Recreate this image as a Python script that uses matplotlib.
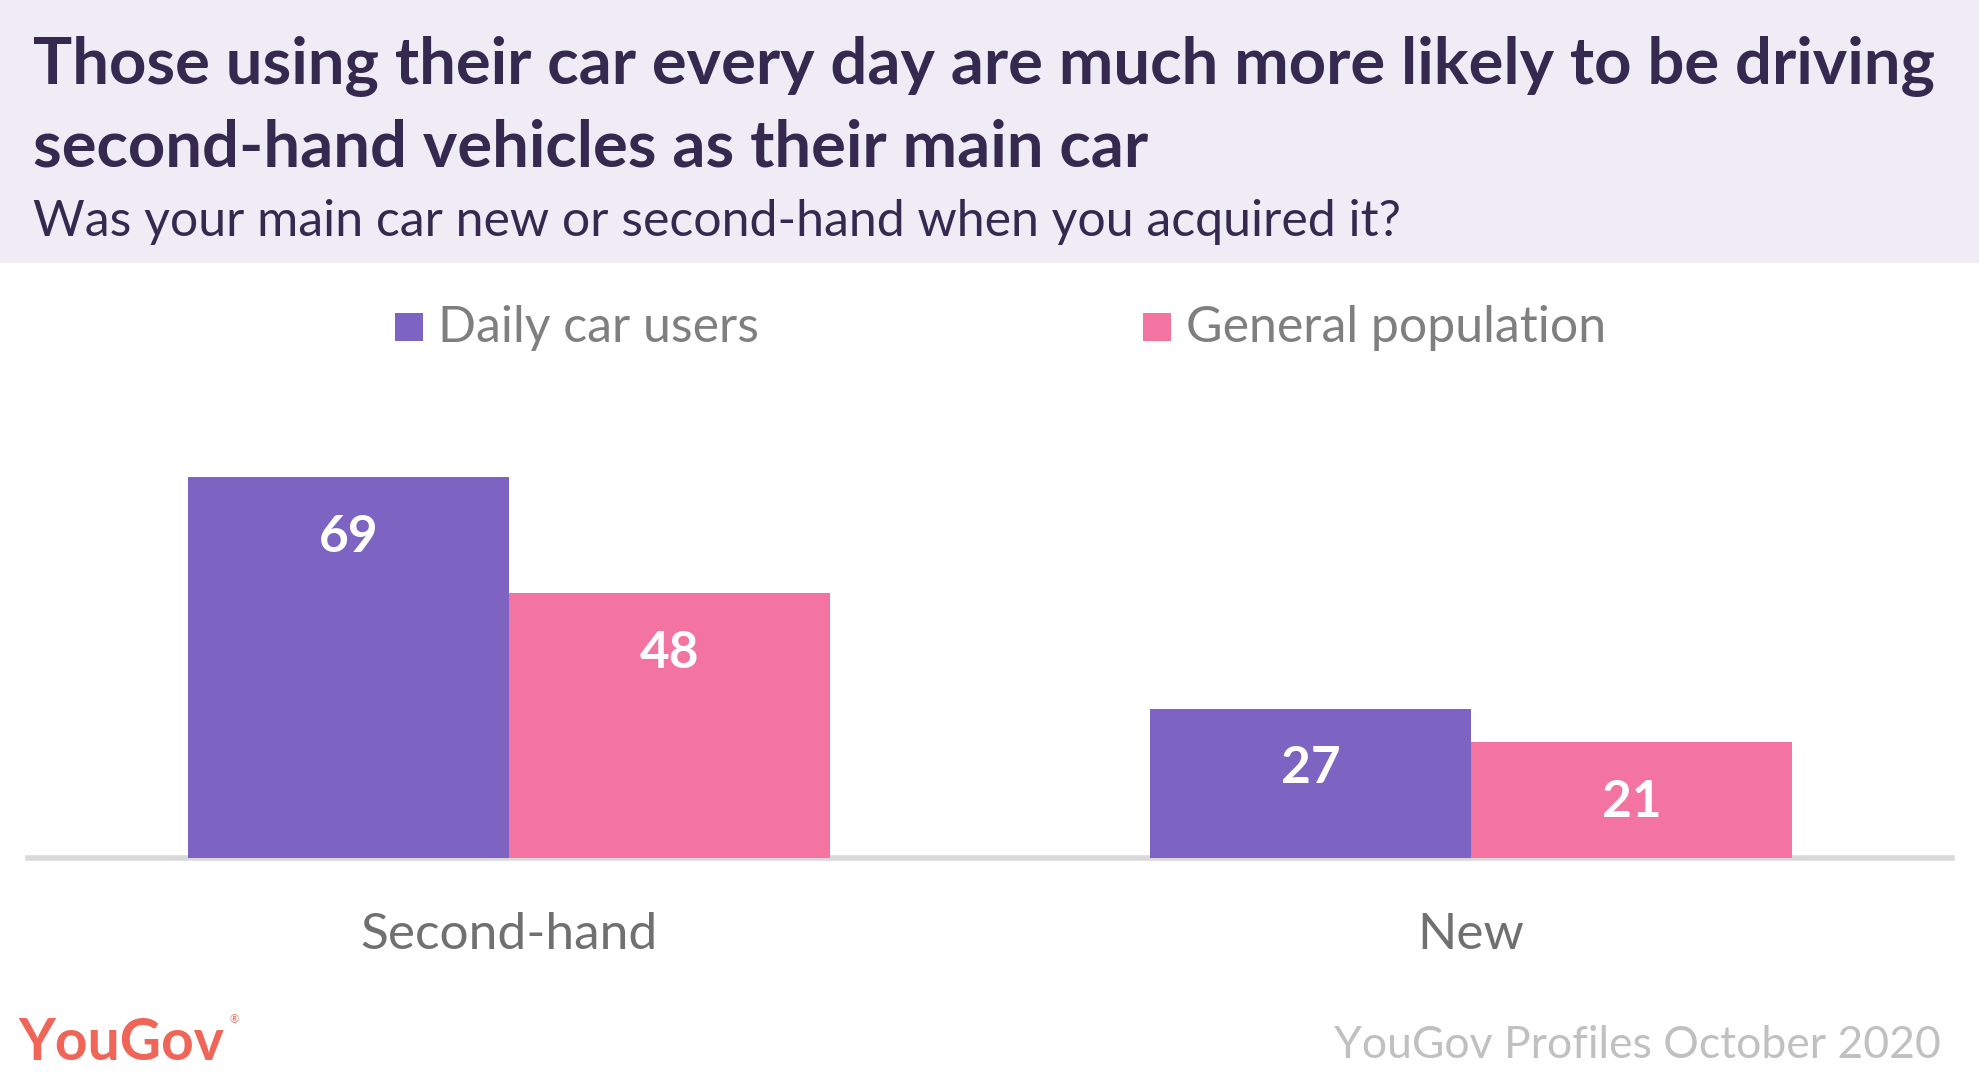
import matplotlib.pyplot as plt
from matplotlib.patches import Rectangle

categories = ['Second-hand', 'New']
series_names = ['Daily car users', 'General population']
daily_car_users = [69, 27]
general_population = [48, 21]

title = ('Those using their car every day are much more likely to be driving\n'
         'second-hand vehicles as their main car')
subtitle = 'Was your main car new or second-hand when you acquired it?'
source = 'YouGov Profiles October 2020'

PURPLE = '#7E64C2'
PINK = '#F373A1'
DARK = '#35294F'
W, H = 1979, 1087


def fx(px):
    return px / W


def fy(py):
    return 1 - py / H


def main():
    plt.rcParams['font.family'] = ['Lato', 'DejaVu Sans']
    fig = plt.figure(figsize=(W / 100, H / 100), dpi=100)

    # header band
    fig.patches.append(Rectangle((0, fy(263)), 1, 263 / H, transform=fig.transFigure,
                                 facecolor='#EFECF6', edgecolor='none', zorder=0))
    fig.text(fx(33), fy(36), title, fontsize=47, fontweight='bold', color=DARK,
             va='top', ha='left', linespacing=1.45)
    fig.text(fx(33), fy(236), subtitle, fontsize=36, fontweight='normal', color=DARK,
             va='baseline', ha='left')

    # legend
    colors = [PURPLE, PINK]
    leg_x = [395, 1143]
    for name, c, x0 in zip(series_names, colors, leg_x):
        fig.patches.append(Rectangle((fx(x0), fy(341)), 28 / W, 28 / H, transform=fig.transFigure,
                                     facecolor=c, edgecolor='none'))
        fig.text(fx(x0 + 43), fy(328), name, fontsize=36, fontweight='normal', color='#7F7F7F',
                 va='center', ha='left')

    # bars
    ax = fig.add_axes([fx(28), fy(858), (1952 - 28) / W, (858 - 306) / H])
    ax.set_xlim(-0.5, 1.5)
    ax.set_ylim(0, 100)
    w = 1 / 3
    xs = range(len(categories))
    for vals, c, off in [(daily_car_users, PURPLE, -w / 2), (general_population, PINK, w / 2)]:
        bars = ax.bar([x + off for x in xs], vals, width=w, color=c, zorder=2)
        for b, v in zip(bars, vals):
            ax.annotate(str(v), (b.get_x() + b.get_width() / 2, v), xytext=(0, -60),
                        textcoords='offset pixels', ha='center', va='center',
                        fontsize=37, fontweight='bold', color='white', zorder=3)
    for s in ['top', 'left', 'right']:
        ax.spines[s].set_visible(False)
    ax.spines['bottom'].set_color('#D9D9D9')
    ax.spines['bottom'].set_linewidth(4)
    ax.spines['bottom'].set_zorder(1)
    ax.set_yticks([])
    ax.set_xticks(list(xs))
    ax.set_xticklabels(categories, fontsize=37, fontweight='normal', color='#707070')
    ax.tick_params(axis='x', length=0, pad=39)
    ax.patch.set_alpha(0)

    # footer
    fig.text(fx(18), fy(1043), 'YouGov', fontsize=41, fontweight='bold', color='#EF6658',
             va='center', ha='left')
    fig.text(fx(230), fy(1020), '®', fontsize=8, color='#EF6658', va='center', ha='left')
    fig.text(fx(1941), fy(1046), source, fontsize=32, fontweight='normal', color='#C0C0C0',
             va='center', ha='right')

    fig.savefig('out.png', dpi=100)


if __name__ == '__main__':
    main()
